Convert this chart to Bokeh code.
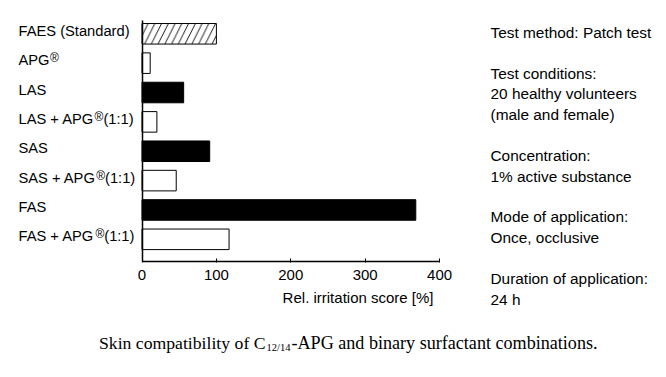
from bokeh.plotting import figure
from bokeh.models import Range1d, Label, LabelSet, ColumnDataSource, FixedTicker, LinearAxis
from bokeh.core.properties import value
from bokeh.embed import file_html
from bokeh.resources import INLINE

# ---------------- data ----------------
categories = ["FAES (Standard)", "APG®", "LAS", "LAS + APG®(1:1)",
              "SAS", "SAS + APG®(1:1)", "FAS", "FAS + APG®(1:1)"]
scores = [100, 11, 56, 20, 91, 46, 368, 117]
bar_styles = ["hatched", "open", "solid", "open", "solid", "open", "solid", "open"]
x_ticks = [0, 100, 200, 300, 400]
x_title = "Rel. irritation score [%]"
note_paragraphs = [
    ["Test method: Patch test"],
    ["Test conditions:", "20 healthy volunteers", "(male and female)"],
    ["Concentration:", "1% active substance"],
    ["Mode of application:", "Once, occlusive"],
    ["Duration of application:", "24 h"],
]
caption_main = "Skin compatibility of C"
caption_sub = "12/14"
caption_rest = "-APG and binary surfactant combinations."

# ---------------- layout helpers (pixel -> data) ----------------
W, H = 666, 377
X0_PX, X_PX_PER_UNIT = 141.5, 0.744
Y0_PX, Y_PX_PER_ROW = 33.3, 29.36
AXIS_TOP, AXIS_BOTTOM = 20, 261


def xd(px):
    return (px - X0_PX) / X_PX_PER_UNIT


def yd(py):
    return (py - Y0_PX) / Y_PX_PER_ROW


def row_px(i):
    return Y0_PX + Y_PX_PER_ROW * i


SANS = "Liberation Sans"
SERIF = "Liberation Serif"
FS = 14.7  # px, category labels
# Liberation Sans advance widths (per 1000 em) for the label heads
ADV = {"A": 667, "P": 667, "G": 778, "L": 556, "S": 667, "F": 611, " ": 278, "+": 584}


def text_w(s, size):
    return sum(ADV.get(c, 556) for c in s) * size / 1000.0


p = figure(width=W, height=H, output_backend="svg", toolbar_location=None,
           x_range=Range1d(xd(0), xd(W)), y_range=Range1d(yd(H), yd(0)),
           x_axis_location=None, y_axis_location=None, min_border=0)
p.outline_line_color = None
p.xgrid.visible = False
p.ygrid.visible = False
p.background_fill_color = "white"
p.border_fill_color = "white"

# bars
idx = list(range(len(categories)))
fills = ["white" if s != "solid" else "black" for s in bar_styles]
hatches = ["/" if s == "hatched" else " " for s in bar_styles]
src = ColumnDataSource(dict(y=idx, right=scores, fill=fills, hatch=hatches))
p.hbar(y="y", left=0, right="right", height=0.7, source=src,
       fill_color="fill", line_color="black", line_width=1,
       hatch_pattern="hatch", hatch_color="black", hatch_scale=13.5, hatch_weight=0.9)

# x axis (fixed at bottom of bar area)
xa = LinearAxis(fixed_location=yd(AXIS_BOTTOM), bounds=(x_ticks[0], x_ticks[-1]))
xa.ticker = FixedTicker(ticks=x_ticks)
xa.minor_tick_line_color = None
xa.major_tick_in = 3
xa.major_tick_out = 1
xa.axis_line_width = 1.5
xa.axis_line_color = "black"
xa.major_tick_line_color = "black"
xa.major_label_text_font = SANS
xa.major_label_text_font_size = "15px"
xa.major_label_text_color = "black"
xa.major_label_standoff = 7
p.add_layout(xa, "below")

# y axis: only a line at x = 0
ya = LinearAxis(fixed_location=0, bounds=(yd(AXIS_TOP), yd(AXIS_BOTTOM)))
ya.ticker = FixedTicker(ticks=[])
ya.minor_tick_line_color = None
ya.major_tick_line_color = None
ya.major_label_text_font_size = "0px"
ya.axis_line_width = 1.5
ya.axis_line_color = "black"
p.add_layout(ya, "left")

# category labels (left aligned), with superscript ® rendered smaller
LEFT_PX = 18
BASE_OFF = 2.0  # baseline below bar centre, px
heads, hx, hy, regs, rx, ry, tails, tx, ty = [], [], [], [], [], [], [], [], []
for i, cat in enumerate(categories):
    base = row_px(i) + BASE_OFF
    if "®" in cat:
        head, tail = cat.split("®", 1)
    else:
        head, tail = cat, ""
    heads.append(head); hx.append(xd(LEFT_PX)); hy.append(yd(base))
    if "®" in cat:
        x_reg = LEFT_PX + text_w(head, FS) + 0.5
        regs.append("®"); rx.append(xd(x_reg)); ry.append(yd(base - 3))
        if tail:
            tails.append(tail); tx.append(xd(x_reg + 0.737 * 12)); ty.append(yd(base))

common = dict(text_color="black", text_align="left", text_baseline="alphabetic")
p.add_layout(LabelSet(x="x", y="y", text="text",
                      source=ColumnDataSource(dict(x=hx, y=hy, text=heads)),
                      text_font=value(SANS), text_font_size=f"{FS}px", **common))
p.add_layout(LabelSet(x="x", y="y", text="text",
                      source=ColumnDataSource(dict(x=rx, y=ry, text=regs)),
                      text_font=value(SANS), text_font_size="12px", **common))
p.add_layout(LabelSet(x="x", y="y", text="text",
                      source=ColumnDataSource(dict(x=tx, y=ty, text=tails)),
                      text_font=value(SANS), text_font_size=f"{FS}px", **common))

# axis title
p.add_layout(Label(x=xd(433), y=yd(297), text=x_title, text_font=SANS,
                   text_font_size="15px", text_color="black",
                   text_align="right", text_baseline="alphabetic"))

# notes on the right
line_no = 0
for pi, para in enumerate(note_paragraphs):
    for line in para:
        base = 32 + 20.9 * line_no + 19.6 * pi
        p.add_layout(Label(x=xd(490), y=yd(base), text=line, text_font=SANS,
                           text_font_size="15.4px", text_color="black",
                           text_align="left", text_baseline="alphabetic"))
        line_no += 1

# caption
p.add_layout(Label(x=xd(265), y=yd(342), text=caption_main, text_font=SERIF,
                   text_font_size="17.7px", text_color="black",
                   text_align="right", text_baseline="alphabetic"))
p.add_layout(Label(x=xd(266), y=yd(347), text=caption_sub, text_font=SERIF,
                   text_font_size="10.5px", text_color="black",
                   text_align="left", text_baseline="alphabetic"))
p.add_layout(Label(x=xd(291), y=yd(342), text=caption_rest, text_font=SERIF,
                   text_font_size="18.1px", text_color="black",
                   text_align="left", text_baseline="alphabetic"))

open("out.html", "w").write(file_html(p, INLINE))
